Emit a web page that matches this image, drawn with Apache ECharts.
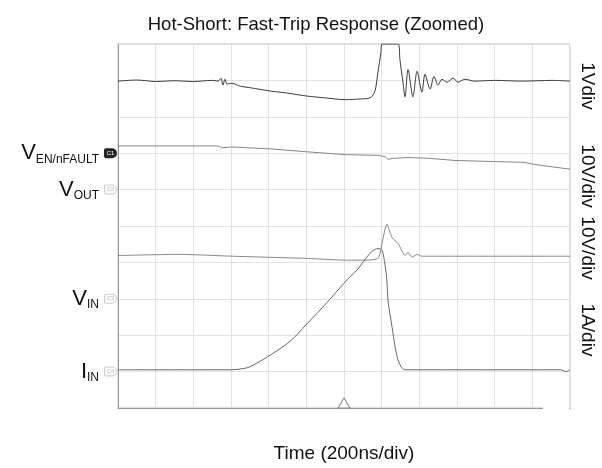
<!DOCTYPE html>
<html>
<head>
<meta charset="utf-8">
<script src="https://cdn.jsdelivr.net/npm/echarts@6/dist/echarts.min.js"></script>
<style>
  html, body { margin: 0; padding: 0; background: #fff; }
  #main { width: 602px; height: 468px; }
</style>
</head>
<body>
<div id="main"></div>
<script>
// x = time in ns (200 ns/div, trigger at 0), y = screen divisions (0 = bottom of graticule)
const trace1 = [
  [-1200, 8.98], [-1100, 9.01], [-1000, 8.97], [-900, 8.99], [-800, 8.97], [-700, 9.00],
  [-669, 8.98], [-653, 9.06], [-643, 8.87], [-632, 9.03],
  [-621, 8.90], [-595, 8.92], [-550, 8.84], [-500, 8.80], [-393, 8.71], [-300, 8.65],
  [-197, 8.57], [-100, 8.52], [5, 8.47], [85, 8.49], [138, 8.52], [164, 8.70],
  [180, 9.22], [196, 9.76], [202, 10], [287, 10], [297, 9.57], [313, 8.95],
  [324, 8.55], [340, 9.30], [366, 8.55], [388, 9.25], [414, 8.68], [430, 9.17],
  [457, 8.76], [478, 9.11], [499, 8.87], [520, 9.03], [547, 8.95], [579, 9.06],
  [605, 8.95], [642, 9.03], [695, 8.98], [800, 9.00], [950, 8.98], [1100, 9.00], [1200, 8.98]
];
const trace2 = [
  [-1200, 7.20], [-900, 7.20], [-669, 7.20], [-650, 7.15], [-595, 7.17], [-393, 7.12],
  [-200, 7.04], [5, 6.96], [180, 6.94], [218, 6.91], [234, 6.83], [260, 6.86],
  [340, 6.88], [450, 6.86], [589, 6.80], [800, 6.77], [950, 6.75], [1040, 6.67], [1200, 6.56]
];
const trace3 = [
  [-1200, 4.19], [-871, 4.22], [-595, 4.17], [-393, 4.14], [-197, 4.11], [16, 4.06],
  [122, 4.06], [180, 4.11], [191, 4.25], [228, 5.05], [255, 4.68], [287, 4.52],
  [324, 4.19], [340, 4.27], [361, 4.14], [388, 4.22], [414, 4.17], [510, 4.17],
  [800, 4.17], [1200, 4.17]
];
const trace4 = [
  [-1200, 1.05], [-900, 1.05], [-595, 1.05], [-540, 1.08], [-500, 1.13], [-393, 1.45],
  [-287, 1.83], [-197, 2.31], [-90, 2.90], [16, 3.52], [69, 3.79], [138, 4.25],
  [180, 4.38], [202, 4.33], [218, 3.92], [228, 3.47], [234, 2.93], [255, 2.23],
  [271, 1.69], [287, 1.32], [308, 1.10], [324, 1.05], [1150, 1.05], [1180, 1.00], [1200, 1.05]
];

// channel ground markers on the left edge
const channelLevels = [7, 6, 3, 1];
const channelMain = ['V', 'V', 'V', 'I'];
const channelSub = ['EN/nFAULT', 'OUT', 'IN', 'IN'];
// scale labels on the right edge
const scaleLabels = ['1Vdiv', '10V/div', '10V/div', '1A/div'];
const scaleLabelY = [86, 176, 248, 330];

const font = 'Liberation Sans, Arial, sans-serif';

const chart = echarts.init(document.getElementById('main'));

const tagStyle = {
  width: 11, height: 8, fontSize: 6, align: 'center', verticalAlign: 'middle',
  color: '#bbb', backgroundColor: '#fafafa', borderColor: '#ccc', borderWidth: 1,
  borderRadius: [1, 4, 4, 1]
};

const option = {
  animation: false,
  title: {
    text: 'Hot-Short: Fast-Trip Response (Zoomed)',
    left: 311, top: 10, textAlign: 'center',
    textStyle: { fontFamily: font, fontSize: 18.5, fontWeight: 'normal', color: '#111' }
  },
  grid: { left: 118, right: 32, top: 44, bottom: 52, show: true, borderColor: '#bbb', borderWidth: 1 },
  xAxis: {
    type: 'value', min: -1200, max: 1200, interval: 200,
    name: 'Time (200ns/div)', nameLocation: 'middle', nameGap: 36,
    nameTextStyle: { fontFamily: font, fontSize: 19, color: '#111' },
    axisLabel: { show: false },
    axisTick: { show: false },
    axisLine: { onZero: false, lineStyle: { color: '#999' } },
    splitLine: { lineStyle: { color: '#e2e2e2' } }
  },
  yAxis: {
    type: 'value', min: 0, max: 10, interval: 1,
    axisTick: { show: false },
    axisLine: { show: true, onZero: false, lineStyle: { color: '#999' } },
    splitLine: { lineStyle: { color: '#e2e2e2' } },
    axisLabel: {
      margin: 2,
      formatter: (v) => {
        const i = channelLevels.indexOf(v);
        if (i < 0) return '';
        const tag = i === 0 ? 't1' : 't';
        return '{m|' + channelMain[i] + '}{s|' + channelSub[i] + '}{g|}{' + tag + '|C' + (i + 1) + '}';
      },
      rich: {
        m: { fontFamily: font, fontSize: 22, color: '#111', lineHeight: 24, verticalAlign: 'middle' },
        s: { fontFamily: font, fontSize: 12, color: '#111', lineHeight: 15, verticalAlign: 'bottom' },
        g: { width: 6 },
        t: tagStyle,
        t1: Object.assign({}, tagStyle, { color: '#fff', backgroundColor: '#222', borderColor: '#222' })
      }
    }
  },
  graphic: scaleLabels.map((s, i) => ({
    type: 'text', x: 587, y: scaleLabelY[i], rotation: -Math.PI / 2,
    style: { text: s, font: '19px ' + font, fill: '#111', align: 'center', verticalAlign: 'middle' }
  })).concat([{
    type: 'rect', z: 1, shape: { x: 543, y: 387, width: 26, height: 27 }, style: { fill: '#fff' }
  }]),
  series: [
    { type: 'line', data: trace1, symbol: 'none', smooth: 0.3, lineStyle: { width: 1, color: '#3c3c3c' }, z: 5 },
    { type: 'line', data: trace2, symbol: 'none', lineStyle: { width: 1, color: '#858585' }, z: 5 },
    { type: 'line', data: trace3, symbol: 'none', smooth: 0.2, lineStyle: { width: 1, color: '#858585' }, z: 5 },
    {
      type: 'line', data: trace4, symbol: 'none', smooth: 0.3, lineStyle: { width: 1, color: '#666' }, z: 5,
      markPoint: {
        silent: true,
        symbol: 'triangle', symbolSize: [12, 10], symbolOffset: [0, -5],
        itemStyle: { color: '#fff', borderColor: '#888', borderWidth: 1 },
        label: { show: false },
        data: [{ coord: [0, 0] }]
      }
    }
  ]
};

chart.setOption(option);
</script>
</body>
</html>
